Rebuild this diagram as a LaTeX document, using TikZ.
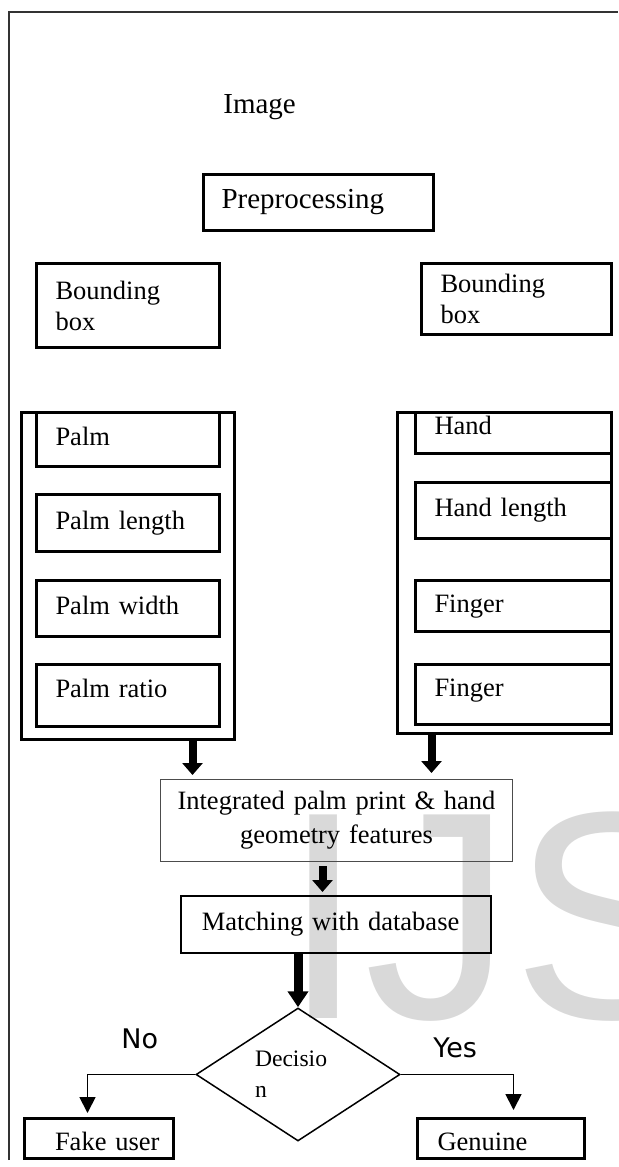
\documentclass[tikz,border=0pt]{standalone}
\usepackage{fontspec}
\setmainfont{Liberation Serif}
\newfontfamily\labelsans{DejaVu Sans}
\newfontfamily\marksans{Liberation Sans}
\usetikzlibrary{arrows.meta,shapes.geometric}

\begin{document}
\begin{tikzpicture}[x=0.5pt,y=-0.5pt,
    box/.style={draw, line width=1.5pt, anchor=north west, align=left,
        inner xsep=9.5pt, inner ysep=0pt, font=\fontsize{13.25}{15.5}\selectfont},
    oneline/.style={text height=9.3pt, text depth=3.3pt},
    raised/.style={text height=9.3pt, text depth=7.8pt},
    lowtext/.style={text height=15pt, text depth=3pt},
    colbox/.style={draw, line width=1.5pt, anchor=north west, inner sep=0pt},
    fatarrow/.style={line width=4pt, -{Triangle[length=6pt,width=10pt]}},
    thinarrow/.style={line width=0.9pt, -{Triangle[length=8pt,width=8pt]}},
    yesno/.style={anchor=base west, inner sep=0pt, font=\labelsans\fontsize{13.5}{16}\selectfont}]

  % page, watermark and frame
  \useasboundingbox (0,0) rectangle (618,1167);
  \node[anchor=base west, inner sep=0pt, text=black!15,
        font=\marksans\fontsize{148}{148}\selectfont] (wm) at (282,1018) {IJS};
  \draw[line width=0.75pt, black!80] (9,1160) -- (9,12) -- (618,12);

  % input
  \node[anchor=base west, inner sep=0pt, font=\fontsize{14.5}{17}\selectfont] (img) at (223,113) {Image};
  \node[box, oneline, inner xsep=9pt, text width=97pt, minimum height=28pt,
        font=\fontsize{14.5}{17}\selectfont] (prep) at (202,173) {Preprocessing};

  % bounding boxes
  \node[box, text width=72.5pt, minimum height=42pt] (lbb) at (35,262) {Bounding\\box};
  \node[box, text width=76pt, minimum height=35.5pt] (rbb) at (420,262) {Bounding\\box};

  % palm features
  \node[colbox, minimum width=106.5pt, minimum height=163.5pt] (lcol) at (20,411) {};
  \node[box, oneline, text width=72.5pt, minimum height=27pt] (palm) at (35,411) {Palm};
  \node[box, oneline, text width=72.5pt, minimum height=28.5pt] (plen) at (35,493) {Palm length};
  \node[box, oneline, text width=72.5pt, minimum height=28pt] (pwid) at (35,579) {Palm width};
  \node[box, raised, text width=72.5pt, minimum height=31pt] (prat) at (35,663) {Palm ratio};

  % hand features
  \node[colbox, minimum width=107pt, minimum height=160.5pt] (rcol) at (396,411) {};
  \node[box, raised, text width=79pt, minimum height=20.5pt] (hand) at (414,411) {Hand};
  \node[box, oneline, text width=79pt, minimum height=28pt] (hlen) at (414,481) {Hand length};
  \node[box, oneline, text width=79pt, minimum height=25.5pt] (fng1) at (414,579) {Finger};
  \node[box, raised, text width=79pt, minimum height=30pt] (fng2) at (414,663) {Finger};

  % fusion and matching
  \node[box, draw=black!70, line width=0.5pt, align=center, inner xsep=3pt, text width=170pt,
        minimum height=41pt, font=\fontsize{13.25}{17}\selectfont] (integ) at (160,779)
        {Integrated palm print \& hand\\geometry features};
  \node[box, oneline, line width=0.75pt, inner xsep=10.5pt, text width=134pt,
        minimum height=28.5pt] (match) at (180,895) {Matching with database};

  % decision
  \node[draw, diamond, aspect=2, line width=0.75pt, inner sep=0pt, minimum width=102pt,
        minimum height=66.5pt, align=left, text width=43pt,
        font=\fontsize{11.8}{15.5}\selectfont] (dec) at (298,1074.5) {Decisio\\n};
  \node[box, lowtext, align=right, inner xsep=7pt, text width=60.5pt, minimum height=20pt] (fake) at (23,1117) {Fake user};
  \node[box, lowtext, inner xsep=10pt, text width=63.5pt, minimum height=20pt] (gen) at (416,1117) {Genuine};
  \node[yesno] (no) at (121,1048) {No};
  \node[yesno] (yes) at (433,1057) {Yes};

  % arrows
  \coordinate (ltail) at ([xshift=32.25pt]lcol.south);
  \coordinate (rtail) at ([xshift=-36.5pt]rcol.south);
  \coordinate (mtail) at ([xshift=-7pt]integ.south);
  \draw[fatarrow, shorten >=2pt] (ltail) -- (ltail |- integ.north);
  \draw[fatarrow, shorten >=3pt] (rtail) -- (rtail |- integ.north);
  \draw[fatarrow, shorten <=2pt, shorten >=1.5pt] (mtail) -- (mtail |- match.north);
  \draw[line width=4.5pt, -{Triangle[length=8pt,width=10pt]}] (match.south -| dec.north) -- (dec.north);
  \draw[thinarrow, shorten >=2pt] (dec.west) -| ([xshift=-5.75pt]fake.north);
  \draw[thinarrow, shorten >=3.5pt] (dec.east) -| ([xshift=6.25pt]gen.north);
\end{tikzpicture}
\end{document}
